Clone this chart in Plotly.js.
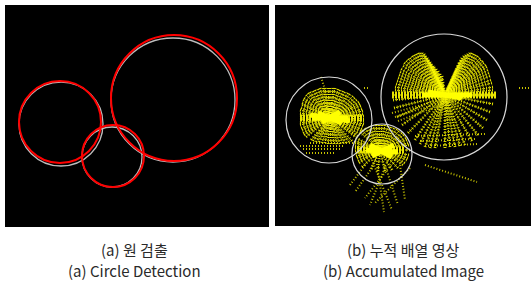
<!DOCTYPE html>
<html><head><meta charset="utf-8">
<script src="https://cdn.plot.ly/plotly-3.0.1.min.js"></script>
<style>html,body{margin:0;padding:0;background:#fff}#c{width:531px;height:287px}</style>
</head><body><div id="c"></div>
<script>
// ---- data (image pixel coordinates) ----
// (a) detected circles: [cx, cy, r]
const detectedCircles = [[174, 98, 63], [60, 122, 41], [113, 156, 31]];
// (a) reference (true) circles
const trueCirclesA = [[173, 100, 62], [61, 124, 42], [112, 157, 30]];
// (b) circles drawn over accumulator
const trueCirclesB = [[444, 97, 63], [329, 120, 43], [382, 154, 30]];

// (b) accumulator: vote centres and ray tips
const bigCenter = [445, 95];
const bigTips = [
  [395,90],[395,87],[396,84],[397,81],[398,78],[399,75],[400,72],[401,69],[403,66],[404,63],[406,61],[408,59],
  [410,58],[412,56],[414,55],[416,54],[418,53],[420,53],[422,53],[424,54],[425,56],[427,58],[428,60],[430,62],
  [431,64],[433,66],[434,67],[436,69],[438,71],[440,74],[442,76],
  [453,78],[455,74],[456,70],[458,67],[459,63],[461,60],[462,58],[464,56],[466,55],[468,54],[470,53],[472,53],
  [474,54],[476,55],[478,56],[480,58],[481,60],[483,61],[484,63],[486,65],[487,67],[488,70],[489,73],[490,76],
  [491,80],[492,83],[493,87],[493,90],[494,95],[392,95],
  [493,104],[490,112],[487,120],[483,128],[478,135],[472,141],[465,145],[455,147],[445,148],[435,148],[425,147],
  [415,140],[408,133],[402,125],[397,117],[394,108],[393,100],[420,144],[430,148],[450,147],[460,146]
];
const leftCenter = [330, 118];
const leftTips = [
  [308,93],[310,92],[313,91],[315,90],[318,89],[320,88],[323,88],[325,88],[328,88],[330,88],[333,88],[335,88],
  [338,89],[340,90],[343,91],[345,92],[348,93],[350,94],[353,96],[355,98],
  [357,100],[359,102],[360,104],[361,106],[362,109],[363,111],[363,114],[364,116],[364,119],[364,121],[364,124],
  [363,126],[362,129],[361,131],[360,134],[358,136],[357,138],
  [352,141],[349,142],[346,143],[343,143],[340,144],[337,144],[334,144],[331,144],[328,144],[325,143],[322,143],
  [319,142],[316,142],[313,141],[311,140],
  [306,137],[304,135],[303,133],[302,130],[301,128],[300,125],[300,123],[300,120],[300,118],[300,115],[300,113],
  [300,110],[301,108],[302,105],[302,103],[303,100],[304,98],[306,95]
];
const smallCenter = [380, 150];
const smallTips = [
  [356,138],[355,141],[355,143],[355,146],[355,148],[355,151],[356,153],[356,156],[357,158],[358,161],[359,163],
  [362,167],[360,132],[362,130],[365,128],[368,127],[370,126],[373,125],[376,125],[379,125],[382,125],[385,125],
  [388,126],[391,127],[394,128],[397,129],[399,131],[402,133],[404,135],[406,138],[407,140],[408,143],[409,145],
  [410,150],[409,155],[408,158],[407,160],[405,163],[403,165],[398,168],[392,170],[385,171],[378,171],[371,169]
];
// loose rays: [x0, y0, x1, y1]
const looseRays = [
  [395,117,458,97],[392,113,455,96],[398,121,460,98],[425,146,478,144],[420,141,475,139],[415,136,485,134],
  [519,88,530,88],
  [321,77,332,112],[300,146,345,146],[303,149,340,149],[310,143,355,143],[364,88,368,88],[306,153,335,153],
  [372,160,392,210],[376,158,384,212],[388,160,370,205],[395,160,365,198],[410,168,375,203],[400,165,405,200],
  [425,165,477,182],[372,168,355,192],[385,165,398,205],[365,165,350,185]
];
// bright cores: [x0, y0, x1, y1]
const cores = [
  [422,95,472,95],[428,92,462,98],[312,118,348,118],[318,113,342,123],[322,122,340,112],[310,115,350,121],
  [366,150,398,152],[370,145,392,157],[372,156,394,145]
];
// ladder-like horizontal bands: [x0, y0, x1, y1]
const bands = [[392,95,496,95],[300,118,362,118],[357,150,405,150]];

const captionsKo = ["(a) 원 검출", "(b) 누적 배열 영상"];
const captionsEn = ["(a) Circle Detection", "(b) Accumulated Image"];

// ---- build ----
const traces = [];
function addSeg(x, y, s) { x.push(s[0], s[2], null); y.push(s[1], s[3], null); }
const rx = [], ry = [];
[[bigCenter, bigTips], [leftCenter, leftTips], [smallCenter, smallTips]].forEach(g => {
  g[1].forEach(t => addSeg(rx, ry, [t[0], t[1], g[0][0], g[0][1]]));
});
const lx = [], ly = [];
looseRays.forEach(s => addSeg(lx, ly, s));
function tr(list, color, width, dash, x, y) {
  if (!x) { x = []; y = []; list.forEach(s => addSeg(x, y, s)); }
  traces.push({x: x, y: y, xaxis: 'x2', yaxis: 'y2', mode: 'lines', hoverinfo: 'skip',
    line: {color: color, width: width, dash: dash}, showlegend: false});
}
tr(null, 'rgba(220,215,0,0.85)', 3, '1px,2px', rx, ry);
tr(null, '#ffff00', 1, '1px,1px', rx, ry);
tr(looseRays, 'rgba(220,215,0,0.9)', 2, '1px,2px');
tr(bands, '#e8e400', 7, '2px,1px');
tr(cores, '#ffff00', 5, 'solid');

const shapes = [];
function circ(c, xr, yr, color, w) {
  shapes.push({type: 'circle', xref: xr, yref: yr, x0: c[0]-c[2], x1: c[0]+c[2], y0: c[1]-c[2], y1: c[1]+c[2],
    line: {color: color, width: w}, layer: 'above'});
}
trueCirclesA.forEach(c => circ(c, 'x', 'y', '#bcbcbc', 1.3));
detectedCircles.forEach(c => circ(c, 'x', 'y', '#ff0000', 2));
trueCirclesB.forEach(c => circ(c, 'x2', 'y2', '#d8d8d8', 1.2));

const H = 287, W = 531;
const ax = (r, d) => ({range: r, domain: d, showgrid: false, zeroline: false, showticklabels: false, ticks: '', fixedrange: true});
const annotations = [];
[[134, captionsKo[0], captionsEn[0]], [403, captionsKo[1], captionsEn[1]]].forEach(a => {
  annotations.push({xref: 'paper', yref: 'paper', x: a[0]/W, y: 1-249/H, text: a[1], showarrow: false,
    font: {family: 'Noto Sans CJK KR', size: 15, color: '#2a2a2a'}, xanchor: 'center', yanchor: 'middle'});
  annotations.push({xref: 'paper', yref: 'paper', x: a[0]/W, y: 1-270/H, text: a[2], showarrow: false,
    font: {family: 'Noto Sans CJK KR', size: 15, color: '#2a2a2a'}, xanchor: 'center', yanchor: 'middle'});
});

const layout = {
  width: W, height: H, margin: {l: 0, r: 0, t: 0, b: 0}, paper_bgcolor: '#fff', plot_bgcolor: '#000',
  xaxis: ax([5, 269], [5/W, 269/W]), yaxis: ax([227, 5], [1-227/H, 1-5/H]),
  xaxis2: Object.assign(ax([275, 531], [275/W, 1]), {anchor: 'y2'}),
  yaxis2: Object.assign(ax([226, 5], [1-226/H, 1-5/H]), {anchor: 'x2'}),
  shapes: shapes, annotations: annotations, showlegend: false
};
traces.push({x: [null], y: [null], xaxis: 'x', yaxis: 'y', mode: 'markers', showlegend: false, hoverinfo: 'skip'});
Plotly.newPlot('c', traces, layout, {staticPlot: true, displayModeBar: false});
</script></body></html>
